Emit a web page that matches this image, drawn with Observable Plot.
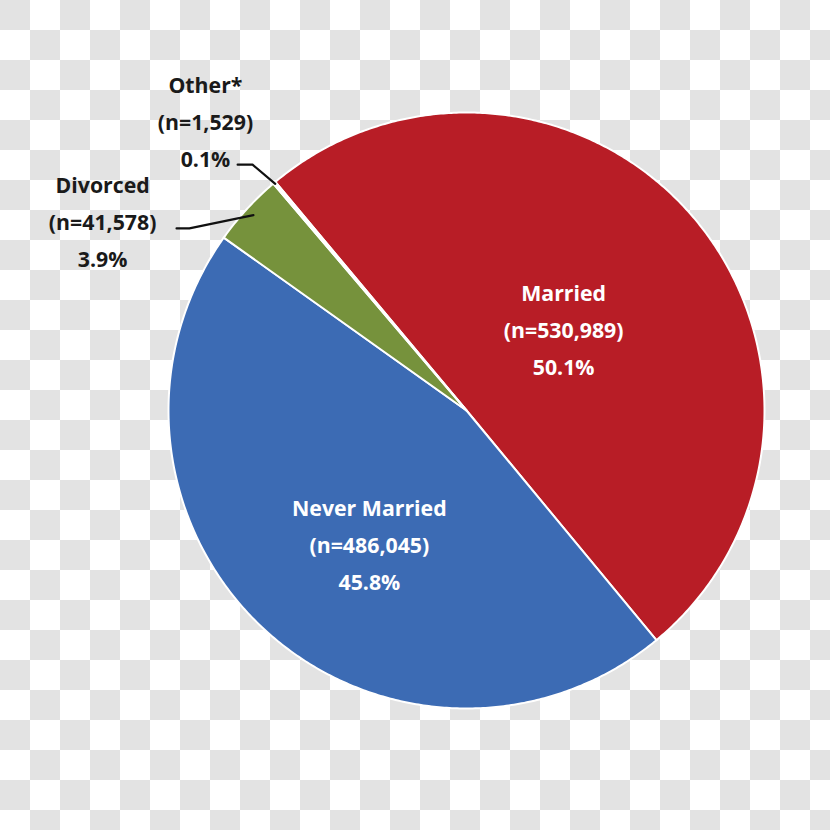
<!DOCTYPE html>
<html>
<head>
<meta charset="utf-8">
<script src="https://cdn.jsdelivr.net/npm/d3@7"></script>
<script src="https://cdn.jsdelivr.net/npm/@observablehq/plot@0.6"></script>
<style>
  html, body { margin: 0; padding: 0; }
  body {
    width: 830px; height: 830px; overflow: hidden;
    background-color: #ffffff;
    background-image: conic-gradient(#ffffff 0 25%, #e3e3e3 0 50%, #ffffff 0 75%, #e3e3e3 0);
    background-size: 60px 60px;
    background-position: 0 0;
  }
  #chart svg { display: block; background: transparent !important; }
</style>
</head>
<body>
<div id="chart"></div>
<script>
// ---- data ----
const categories = ["Married", "Never Married", "Divorced", "Other*"];
const counts = [530989, 486045, 41578, 1529];
const percentLabels = ["50.1%", "45.8%", "3.9%", "0.1%"];
const countLabels = ["(n=530,989)", "(n=486,045)", "(n=41,578)", "(n=1,529)"];
const colors = ["#b81d26", "#3c6bb4", "#76923c", "#ffffff"];

// ---- layout (pie in unit coordinates) ----
const startAngle = -39.9 * Math.PI / 180;   // clockwise from 12 o'clock
const lineGap = 0.124;                       // label line spacing (unit radius)
// label anchors (unit coords, x right, y up) and text colour
const labelPos = [
  {x: 0.326, y: 0.389, color: "white"},
  {x: -0.326, y: -0.332, color: "white"},
  {x: -1.221, y: 0.752, color: "#1a1a1a"},
  {x: -0.876, y: 1.087, color: "#1a1a1a"}
];
// leader lines: [label-side point, elbow] ; the end sits on the rim at mid-angle
const leaderPos = {
  "Divorced": [[-0.973, 0.611], [-0.930, 0.611]],
  "Other*":   [[-0.768, 0.825], [-0.718, 0.825]]
};

const pie = d3.pie().sort(null).value(d => d).startAngle(startAngle).endAngle(startAngle + 2 * Math.PI);
const arcs = pie(counts);

// slice polygons
const polys = [];
arcs.forEach((a, i) => {
  const n = Math.max(4, Math.ceil((a.endAngle - a.startAngle) / (Math.PI / 360)));
  polys.push({cat: categories[i], x: 0, y: 0});
  for (let k = 0; k <= n; k++) {
    const t = a.startAngle + (a.endAngle - a.startAngle) * k / n;
    polys.push({cat: categories[i], x: Math.sin(t), y: Math.cos(t)});
  }
  polys.push({cat: categories[i], x: 0, y: 0});
});

// label rows
const texts = [];
categories.forEach((c, i) => {
  const p = labelPos[i];
  [c, countLabels[i], percentLabels[i]].forEach((s, j) => {
    texts.push({cat: c, text: s, x: p.x, y: p.y - j * lineGap, color: p.color});
  });
});

// leader lines
const leaders = [];
Object.entries(leaderPos).forEach(([c, pts]) => {
  const a = arcs[categories.indexOf(c)];
  const mid = (a.startAngle + a.endAngle) / 2;
  const r = c === "Other*" ? 0.995 : 0.97;
  const all = [...pts, [Math.sin(mid) * r, Math.cos(mid) * r]];
  all.forEach(([x, y]) => leaders.push({cat: c, x, y}));
});

// scales: centre at pixel (466,410), radius 298 px
const R = 298, cx = 466, cy = 410, W = 830, H = 830;

const chart = Plot.plot({
  width: W, height: H,
  margin: 0,
  style: {background: "transparent", fontFamily: "'Open Sans', sans-serif"},
  x: {domain: [-cx / R, (W - cx) / R], axis: null},
  y: {domain: [(cy - H) / R, cy / R], axis: null},
  color: {domain: categories, range: colors},
  marks: [
    Plot.line(polys, {x: "x", y: "y", z: "cat", fill: "cat", stroke: "white", strokeWidth: 2, strokeLinejoin: "round", curve: "linear"}),
    Plot.line(leaders, {x: "x", y: "y", z: "cat", stroke: "#111", strokeWidth: 2.2}),
    Plot.text(texts, {x: "x", y: "y", text: "text", fill: "color", fontSize: 21.3, fontWeight: 700, textAnchor: "middle"})
  ]
});
document.getElementById("chart").appendChild(chart);
</script>
</body>
</html>
